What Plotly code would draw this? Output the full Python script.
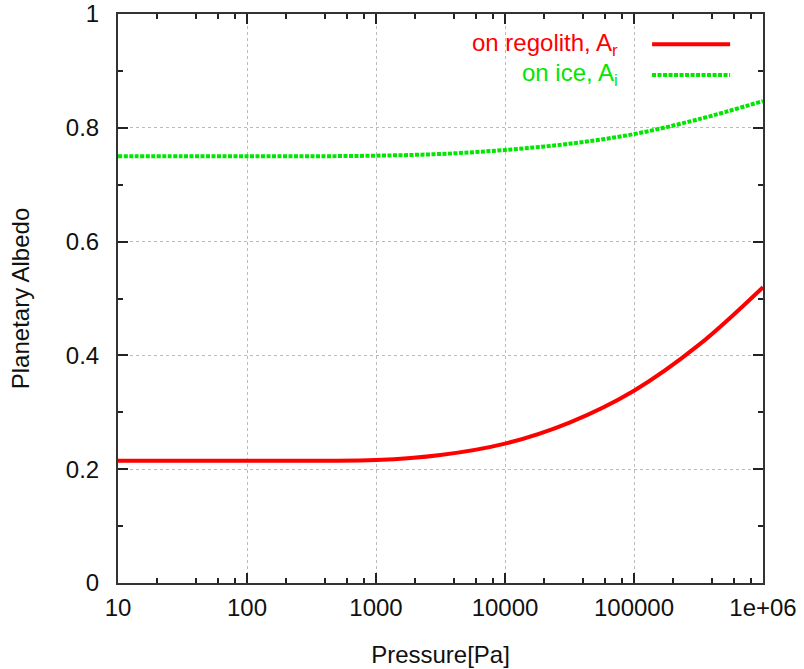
import plotly.graph_objects as go

# ---- data ----
pressure = [10, 31.6, 100, 316, 1000, 3162, 10000, 31623, 100000, 316228, 1000000]
albedo_regolith = [0.215, 0.215, 0.215, 0.215, 0.216, 0.225, 0.245, 0.282, 0.338, 0.418, 0.520]
albedo_ice = [0.750, 0.750, 0.750, 0.750, 0.751, 0.754, 0.761, 0.772, 0.789, 0.815, 0.847]

x_tick_vals = [10, 100, 1000, 10000, 100000, 1000000]
x_tick_text = ["10", "100", "1000", "10000", "100000", "1e+06"]
x_minor_vals = [m * 10 ** e for e in range(1, 6) for m in (2, 4, 6, 8)]
y_tick_vals = [0, 0.2, 0.4, 0.6, 0.8, 1.0]
y_tick_text = ["0", "0.2", "0.4", "0.6", "0.8", "1"]

series_names = ["on regolith, A<sub>r</sub>", "on ice, A<sub>i</sub>"]
RED = "#ff0000"
GREEN = "#00e600"
FONT = "Liberation Sans, Arial, sans-serif"

fig = go.Figure()
fig.add_trace(go.Scatter(x=pressure, y=albedo_regolith, mode="lines",
                         line=dict(color=RED, width=4, shape="spline"),
                         name=series_names[0], showlegend=False))
fig.add_trace(go.Scatter(x=pressure, y=albedo_ice, mode="lines",
                         line=dict(color=GREEN, width=4, shape="spline", dash="4px,1.5px"),
                         name=series_names[1], showlegend=False))

axis_common = dict(
    showline=True, linecolor="#333333", linewidth=2, mirror="allticks",
    ticks="inside", ticklen=10, tickwidth=1.5, tickcolor="#222222",
    showgrid=True, gridcolor="#bbbbbb", gridwidth=1, griddash="dot",
    zeroline=False, tickfont=dict(family=FONT, size=24, color="#111111"),
    automargin=False, ticklabeloverflow="allow",
)

fig.update_xaxes(type="log", range=[1, 6], tickvals=x_tick_vals, ticktext=x_tick_text,
                 minor=dict(tickvals=x_minor_vals, ticks="inside", ticklen=5,
                            tickwidth=1.5, tickcolor="#222222", showgrid=False),
                 ticklabelstandoff=2,
                 title=dict(text="Pressure[Pa]", font=dict(family=FONT, size=24, color="#111111"),
                            standoff=26),
                 **axis_common)
fig.update_yaxes(range=[0, 1], tickvals=y_tick_vals, ticktext=y_tick_text,
                 minor=dict(dtick=0.1, ticks="inside", ticklen=5,
                            tickwidth=1.5, tickcolor="#222222", showgrid=False),
                 ticklabelstandoff=12,
                 title=dict(text="Planetary Albedo", font=dict(family=FONT, size=24, color="#111111"),
                            standoff=29),
                 **axis_common)

# white key area hiding the grid (as gnuplot does)
fig.add_shape(type="rect", xref="paper", yref="paper", x0=0.38, x1=0.997, y0=0.861, y1=0.997,
              fillcolor="white", line=dict(width=0), layer="between")

# key (text followed by sample line, gnuplot style)
key_y = [0.947, 0.893]
key_colors = [RED, GREEN]
key_dash = ["solid", "4px,1.5px"]
for name, ky, col, dsh in zip(series_names, key_y, key_colors, key_dash):
    fig.add_annotation(xref="paper", yref="paper", x=0.778, y=ky, xanchor="right", yanchor="middle",
                       text=name, showarrow=False, font=dict(family=FONT, size=24, color=col))
    fig.add_shape(type="line", xref="paper", yref="paper", x0=0.828, x1=0.949, y0=ky, y1=ky,
                  line=dict(color=col, width=4, dash=dsh))

fig.update_layout(width=804, height=669, margin=dict(l=118, r=41, t=14, b=86),
                  paper_bgcolor="white", plot_bgcolor="white", font=dict(family=FONT))

# remove the default page margin so the figure fills the window exactly
fig.write_html("out.html",
               config={"displayModeBar": False},
               post_script="document.body.style.margin='0';document.body.style.overflow='hidden';")
